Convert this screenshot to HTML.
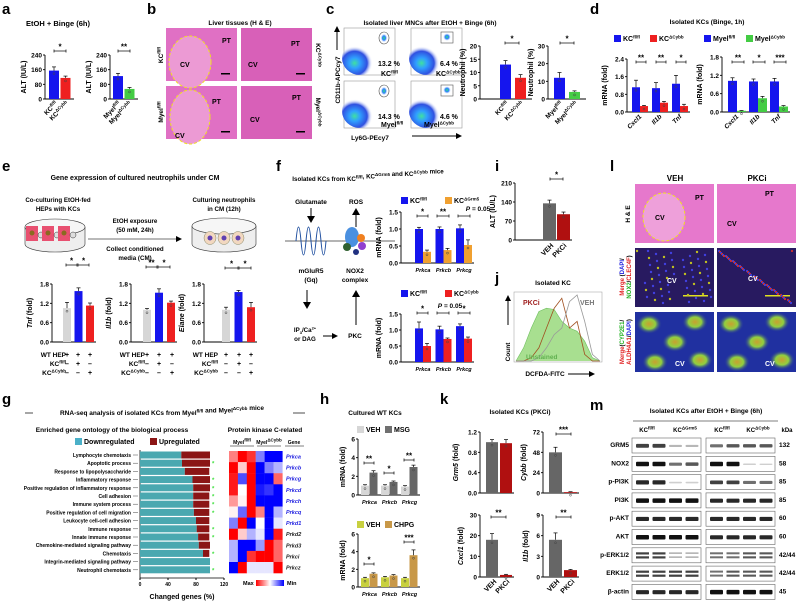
<!DOCTYPE html>
<html><head><meta charset="utf-8">
<style>
html,body{margin:0;padding:0;background:#fff;}
svg{display:block;font-family:"Liberation Sans",Arial,sans-serif;font-weight:bold;}
</style></head>
<body>
<svg id="fig" width="800" height="606" viewBox="0 0 800 606" xmlns="http://www.w3.org/2000/svg">
<defs>
<radialGradient id="flow" cx="0.35" cy="0.65" r="0.5"><stop offset="0" stop-color="#40e0a0"/><stop offset="0.3" stop-color="#30a0ff"/><stop offset="0.7" stop-color="#3050e0"/><stop offset="1" stop-color="#fff" stop-opacity="0"/></radialGradient>
<radialGradient id="gate" cx="0.5" cy="0.5" r="0.5"><stop offset="0" stop-color="#30e080"/><stop offset="0.5" stop-color="#3080ff"/><stop offset="1" stop-color="#fff" stop-opacity="0"/></radialGradient>
<radialGradient id="cyp" cx="0.5" cy="0.5" r="0.5"><stop offset="0" stop-color="#c8a030"/><stop offset="0.5" stop-color="#90d040"/><stop offset="1" stop-color="#2030a0" stop-opacity="0"/></radialGradient>
<linearGradient id="heatscale"><stop offset="0" stop-color="#f00"/><stop offset="0.5" stop-color="#fff"/><stop offset="1" stop-color="#00f"/></linearGradient>
</defs>
</svg>
<script>
// ---------- DATA ----------
const aCats1 = ["KCfl/fl","KCΔCybb"];
const aVals1 = [[155,115]];
const aErr1 = [[20,10]];
const aVals2 = [[125,55]];
const aErr2 = [[15,8]];
const altTicks = [0,80,160,240];
const cVals1 = [[13,8]];
const cErr1 = [[1.5,1.2]];
const cTicks1 = [0,5,10,15,20];
const cVals2 = [[12,4]];
const cErr2 = [[3,0.6]];
const cTicks2 = [0,10,20,30];
const dCats = ["Cxcl1","Il1b","Tnf"];
const dVals1 = [[1.12,0.27],[1.08,0.42],[1.28,0.27]];
const dErr1 = [[0.32,0.03],[0.25,0.06],[0.38,0.08]];
const dTicks1 = [0,0.8,1.6,2.4];
const dVals2 = [[1.02,0.04],[1.0,0.45],[1.0,0.18]];
const dErr2 = [[0.1,0.01],[0.08,0.06],[0.1,0.03]];
const dTicks2 = [0,0.6,1.2,1.8];
const eTicks = [0,0.6,1.2,1.8];
const eTnf = [[1.05],[1.58],[1.13]];
const eTnfErr = [[0.18],[0.1],[0.08]];
const eIl1b = [[1.0],[1.53],[1.22]];
const eIl1bErr = [[0.04],[0.12],[0.05]];
const eElane = [[1.0],[1.55],[1.08]];
const eElaneErr = [[0.08],[0.05],[0.15]];
const fCats = ["Prkca","Prkcb","Prkcg"];
const fVals1 = [[1.0,0.33],[1.0,0.38],[1.02,0.53]];
const fErr1 = [[0.05,0.05],[0.06,0.05],[0.1,0.15]];
const fVals2 = [[1.05,0.5],[1.02,0.72],[1.12,0.73]];
const fErr2 = [[0.2,0.08],[0.1,0.03],[0.07,0.05]];
const fTicks = [0,0.5,1.0,1.5];
const iVals = [[135],[95]];
const iErr = [[12],[8]];
const iTicks = [0,70,140,210];
const hVals1 = [[1.0,2.4],[1.0,1.4],[0.9,3.0]];
const hErr1 = [[0.1,0.2],[0.1,0.1],[0.1,0.2]];
const hVals2 = [[1.0,1.5],[1.1,1.3],[1.0,3.6]];
const hErr2 = [[0.1,0.1],[0.1,0.1],[0.1,0.6]];
const hTicks = [0,2,4,6];
const kGrm5 = [[1.0],[0.98]];
const kCybb = [[48],[1]];
const kCxcl1 = [[18],[1]];
const kIl1b = [[5.4],[1]];
const kErrGrm5 = [[0.05],[0.07]];
const kErrCybb = [[6],[0.5]];
const kErrCxcl1 = [[3],[0.3]];
const kErrIl1b = [[1],[0.1]];
const goTerms = ["Lymphocyte chemotaxis","Apoptotic process","Response to lipopolysaccharide","Inflammatory response","Positive regulation of inflammatory response","Cell adhesion","Immune system process","Positive regulation of cell migration","Leukocyte cell-cell adhesion","Immune response","Innate immune response","Chemokine-mediated signaling pathway","Chemotaxis","Integrin-mediated signaling pathway","Neutrophil chemotaxis"];
const goDown = [59,60,64,75,76,76,76,77,80,81,83,84,90,100,100];
const goUp = [41,40,35,25,24,23,23,22,19,18,16,16,9,0,0];
const goStar = [0,1,0,1,1,1,1,1,0,1,1,0,1,0,1];
const goTicks = [0,40,80,120];
const heatGenes = ["Prkca","Prkcb","Prkcg","Prkcd","Prkch","Prkcq","Prkd1","Prkd2","Prkd3","Prkci","Prkcz"];
const heatVals = [
 [0.5,1,0.8,-0.5,-1,-1],[1,0.2,1,-1,-0.5,-0.3],[0.9,-0.7,1,-1,-1,0.6],[0.9,0,1,-0.9,-0.8,-1],
 [0.4,0.05,1,-1,-1,-1],[0.05,-0.6,1,0.5,-1,-0.3],[-0.5,1,-1,0,-1,-0.1],[1,0.2,-0.3,-0.1,-1,0.9],
 [-0.3,-1,-1,-0.4,1,0.6],[-0.3,-1,0.8,1,1,0.6],[-1,1,-0.1,-0.1,-0.1,1]];
const blotLabels = ["GRM5","NOX2","p-PI3K","PI3K","p-AKT","AKT","p-ERK1/2","ERK1/2","β-actin"];
const blotKda = ["132","58","85","85","60","60","42/44","42/44","45"];
const blotLeft = [[0.8,0.8,0.3,0.3],[1,1,0.6,0.7],[0.9,0.9,0.2,0.2],[1,1,1,1],[0.9,0.9,0.9,0.9],[1,1,1,1],[0.8,0.8,0.3,0.3],[0.8,0.8,0.8,0.8],[0.9,0.9,0.9,0.9]];
const blotRight = [[0.6,0.7,0.7,0.7],[1,1,0.15,0.1],[0.8,0.8,0.6,0.6],[0.9,0.9,0.9,0.9],[0.9,0.9,0.9,0.9],[0.9,0.9,0.9,0.9],[0.6,0.6,0.7,0.7],[0.6,0.7,0.7,0.7],[1,1,1,1]];
const histUnstained = [0,0.2,0.5,0.75,0.8,0.78,0.6,0.5,0.45,0.3,0.05,0];
const histPKCi = [0,0,0.05,0.2,0.5,0.8,0.95,0.5,0.6,0.1,0,0];
const histVEH = [0,0,0,0.05,0.2,0.4,0.5,0.9,1.0,0.6,0.1,0];

// ---------- HELPERS ----------
const NS='http://www.w3.org/2000/svg';
const svg=document.getElementById('fig');
function mk(tag,a,p){const e=document.createElementNS(NS,tag);for(const k in a)e.setAttribute(k,a[k]);(p||svg).appendChild(e);return e;}
function tx(x,y,s,a,p){const e=mk('text',Object.assign({x:x,y:y,'font-size':7},a||{}),p);e.innerHTML=s;return e;}
function sup(b,s){return b+'<tspan font-size="4.5" dy="-2.5">'+s+'</tspan>';}
const BLUE='#1515ee',RED='#ee2020',GREEN='#44cc44',LG='#d6d6d6',DG='#666',OR='#f0a030',DR='#b01010',OL='#c8d040',TAN='#c89848';

function chart(name,o,vals,errs){
  const g=mk('g',{});
  
  
  const Y=v=>o.yb-v/o.max*(o.yb-o.yt);
  const gap=o.gap||0;
  mk('line',{x1:o.ax,x2:o.ax,y1:o.yt,y2:o.yb,stroke:'#000','stroke-width':0.9},g);
  o.ticks.forEach(t=>{
    mk('line',{x1:o.ax-2,x2:o.ax,y1:Y(t),y2:Y(t),stroke:'#000','stroke-width':0.9},g);
    tx(o.ax-3,Y(t)+2.5,o.dec!=null?t.toFixed(o.dec):t,{'text-anchor':'end','font-size':o.fs||6.5},g);
  });
  const ns=vals[0].length;
  const xEnd=o.start+(vals.length-1)*o.gstep+ns*(o.bw+gap)+2;
  mk('line',{x1:o.ax,x2:xEnd,y1:o.yb,y2:o.yb,stroke:'#000','stroke-width':0.9},g);
  vals.forEach((grp,gi)=>grp.forEach((v,si)=>{
    const x=o.start+gi*o.gstep+si*(o.bw+gap);
    const col=o.byGroup?o.colors[gi]:o.colors[si];
    const r=mk('rect',{x:x,y:Y(v),width:o.bw,height:o.yb-Y(v),fill:col},g);
    
    
    const e=errs?errs[gi][si]:0, cx=x+o.bw/2;
    mk('line',{x1:cx,x2:cx,y1:Y(v),y2:Y(v+e),stroke:'#000','stroke-width':0.7},g);
    mk('line',{x1:cx-2,x2:cx+2,y1:Y(v+e),y2:Y(v+e),stroke:'#000','stroke-width':0.7},g);
    mk('circle',{cx:cx,cy:Y(v)+3,r:1,fill:'none',stroke:'#444','stroke-width':0.5},g);
  }));
  if(o.title){tx(0,0,o.title,{'text-anchor':'middle','font-size':o.tfs||7,transform:'translate('+(o.ax-(o.toff||17))+','+((o.yt+o.yb)/2)+') rotate(-90)'},g);}
  if(o.cats){o.cats.forEach((c,gi)=>{
    const cx=o.start+gi*o.gstep+(ns*(o.bw+gap))/2;
    tx(cx,o.yb+9,c,{'text-anchor':'middle','font-size':5.5,'font-style':'italic'},g);
  });}
  return g;
}
function sig(x1,x2,y,s){
  const g=mk('g',{});
  mk('line',{x1:x1,x2:x2,y1:y,y2:y,stroke:'#000','stroke-width':0.7},g);
  mk('line',{x1:x1,x2:x1,y1:y-1.5,y2:y+1.5,stroke:'#000','stroke-width':0.7},g);
  mk('line',{x1:x2,x2:x2,y1:y-1.5,y2:y+1.5,stroke:'#000','stroke-width':0.7},g);
  tx((x1+x2)/2,y-1.5,s,{'text-anchor':'middle','font-size':8},g);
}
function plabel(x,y,s){const t=tx(x,y,s,{'font-size':15,'font-weight':'bold'});}
function legend(x,y,col,s,fs){mk('rect',{x:x,y:y-6,width:7,height:7,fill:col});tx(x+9,y,s,{'font-size':fs||7});}

// ---------- PANEL A ----------
plabel(2,14,'a');
tx(58,26,'EtOH + Binge (6h)',{'text-anchor':'middle','font-size':7.5});
chart('chart-a-kc',{ax:45,yb:99,yt:55,max:240,ticks:altTicks,start:49,gstep:0,bw:10,gap:1.5,colors:[BLUE,RED],title:'ALT (IU/L)',toff:19},aVals1,aErr1);
chart('chart-a-myel',{ax:110,yb:99,yt:55,max:240,ticks:altTicks,start:113,gstep:0,bw:10,gap:1.5,colors:[BLUE,GREEN],title:'ALT (IU/L)',toff:19},aVals2,aErr2);
sig(54,66,51,'*');sig(118,130,51,'**');
[[55,'KC','fl/fl'],[66,'KC','ΔCybb']].forEach(d=>tx(0,0,sup(d[1],d[2]),{'text-anchor':'end','font-size':6.5,transform:'translate('+(d[0]+3)+',104) rotate(-45)'}));
[[118,'Myel','fl/fl'],[129,'Myel','ΔCybb']].forEach(d=>tx(0,0,sup(d[1],d[2]),{'text-anchor':'end','font-size':6.5,transform:'translate('+(d[0]+3)+',104) rotate(-45)'}));

// ---------- PANEL B ----------
plabel(147,14,'b');
tx(240,25,'Liver tissues (H &amp; E)',{'text-anchor':'middle','font-size':6.5});
[[166,28],[241,28],[166,86],[241,86]].forEach((p,i)=>{
  const r=mk('rect',{x:p[0],y:p[1],width:71,height:53,fill:i%2?'#d860b8':'#e070c4'});
  
  mk('rect',{x:p[0]+55,y:p[1]+45,width:9,height:1.5,fill:'#000'});
});
mk('ellipse',{cx:190,cy:62,rx:21,ry:26,fill:'#ec9ad4',stroke:'#f0e020','stroke-width':1,'stroke-dasharray':'3,2'});
mk('ellipse',{cx:190,cy:117,rx:20,ry:27,fill:'#ec9ad4',stroke:'#f0e020','stroke-width':1,'stroke-dasharray':'3,2'});
[[180,67,'CV'],[222,43,'PT'],[248,67,'CV'],[291,46,'PT'],[212,104,'PT'],[175,138,'CV'],[250,122,'CV'],[292,100,'PT']].forEach(d=>tx(d[0],d[1],d[2],{'font-size':7}));
tx(0,0,sup('KC','fl/fl'),{'font-size':6.5,'text-anchor':'middle',transform:'translate(163,55) rotate(-90)'});
tx(0,0,sup('Myel','fl/fl'),{'font-size':6.5,'text-anchor':'middle',transform:'translate(163,112) rotate(-90)'});
tx(0,0,sup('KC','ΔCybb'),{'font-size':6.5,'text-anchor':'middle',transform:'translate(316,55) rotate(90)'});
tx(0,0,sup('Myel','ΔCybb'),{'font-size':6.5,'text-anchor':'middle',transform:'translate(316,112) rotate(90)'});

// ---------- PANEL C ----------
plabel(326,14,'c');
tx(430,25,'Isolated liver MNCs after EtOH + Binge (6h)',{'text-anchor':'middle','font-size':6.5});
[[344,28],[411,28],[344,81],[411,81]].forEach((p,i)=>{
  const r=mk('rect',{x:p[0],y:p[1],width:51,height:47,fill:'#fff',stroke:'#999','stroke-width':0.6});
  
  mk('ellipse',{cx:p[0]+16,cy:p[1]+30,rx:18,ry:17,fill:'url(#flow)'});
  if(i%2){mk('rect',{x:p[0]+30,y:p[1]+4,width:12,height:11,fill:'none',stroke:'#555','stroke-width':0.6});mk('ellipse',{cx:p[0]+36,cy:p[1]+9,rx:4,ry:4,fill:'url(#gate)'});}
  else{mk('ellipse',{cx:p[0]+40,cy:p[1]+10,rx:5,ry:6,fill:'none',stroke:'#555','stroke-width':0.6});mk('ellipse',{cx:p[0]+40,cy:p[1]+10,rx:3.5,ry:4.5,fill:'url(#gate)'});}
});
tx(378,66,'13.2 %',{'font-size':7});tx(381,76,sup('KC','fl/fl'),{'font-size':7});
tx(440,66,'6.4 %',{'font-size':7});tx(436,76,sup('KC','ΔCybb'),{'font-size':7});
tx(378,119,'14.3 %',{'font-size':7});tx(381,127,sup('Myel','fl/fl'),{'font-size':7});
tx(440,119,'4.6 %',{'font-size':7});tx(424,127,sup('Myel','ΔCybb'),{'font-size':7});
tx(0,0,'CD11b-APCcy7',{'font-size':6.5,'text-anchor':'middle',transform:'translate(340,80) rotate(-90)'});
mk('line',{x1:337,x2:337,y1:50,y2:30,stroke:'#000'});mk('path',{d:'M334,32 L337,26 L340,32 Z'});
tx(370,140,'Ly6G-PEcy7',{'text-anchor':'middle','font-size':6.5});
mk('line',{x1:412,x2:458,y1:136,y2:136,stroke:'#000'});mk('path',{d:'M456,133 L462,136 L456,139 Z'});
chart('chart-c-kc',{ax:480,yb:99,yt:46,max:20,ticks:cTicks1,start:500,gstep:0,bw:11,gap:4,colors:[BLUE,RED],title:'Neutrophil (%)',toff:15},cVals1,cErr1);
chart('chart-c-myel',{ax:548,yb:99,yt:46,max:30,ticks:cTicks2,start:554,gstep:0,bw:11,gap:4,colors:[BLUE,GREEN],title:'Neutrophil (%)',toff:15},cVals2,cErr2);
sig(505,519,43,'*');sig(560,574,43,'*');
[[506,'KC','fl/fl'],[521,'KC','ΔCybb'],[560,'Myel','fl/fl'],[575,'Myel','ΔCybb']].forEach(d=>tx(0,0,sup(d[1],d[2]),{'text-anchor':'end','font-size':6.5,transform:'translate('+(d[0]+3)+',104) rotate(-45)'}));

// ---------- PANEL D ----------
plabel(590,14,'d');
tx(707,24,'Isolated KCs (Binge, 1h)',{'text-anchor':'middle','font-size':6.5});
legend(614,41,BLUE,sup('KC','fl/fl'));legend(650,41,RED,sup('KC','ΔCybb'));
legend(704,41,BLUE,sup('Myel','fl/fl'));legend(746,41,GREEN,sup('Myel','ΔCybb'));
chart('chart-d-kc',{ax:627,yb:112,yt:59,max:2.4,ticks:dTicks1,dec:1,start:632,gstep:20,bw:8,colors:[BLUE,RED],title:'mRNA (fold)',toff:20},dVals1,dErr1);
chart('chart-d-myel',{ax:722,yb:112,yt:57,max:1.8,ticks:dTicks2,dec:1,start:728,gstep:21,bw:9,colors:[BLUE,GREEN],title:'mRNA (fold)',toff:20},dVals2,dErr2);
sig(636,646,62,'**');sig(656,666,62,'**');sig(676,686,62,'*');
sig(732,744,62,'**');sig(753,765,62,'*');sig(774,786,62,'***');
dCats.forEach((c,i)=>{tx(0,0,c,{'text-anchor':'end','font-size':6.5,'font-style':'italic',transform:'translate('+(642+i*20)+',117) rotate(-45)'});tx(0,0,c,{'text-anchor':'end','font-size':6.5,'font-style':'italic',transform:'translate('+(739+i*21)+',117) rotate(-45)'});});

// ---------- PANEL E ----------
plabel(2,171,'e');
tx(135,180,'Gene expression of cultured neutrophils under CM',{'text-anchor':'middle','font-size':7});
tx(58,202,'Co-culturing EtOH-fed',{'text-anchor':'middle','font-size':6.2});
tx(58,211,'HEPs with KCs',{'text-anchor':'middle','font-size':6.2});
tx(224,202,'Culturing neutrophils',{'text-anchor':'middle','font-size':6.2});
tx(224,211,'in CM (12h)',{'text-anchor':'middle','font-size':6.2});
tx(135,223,'EtOH exposure',{'text-anchor':'middle','font-size':6.2});
tx(135,232,'(50 mM, 24h)',{'text-anchor':'middle','font-size':6.2});
tx(135,251,'Collect conditioned',{'text-anchor':'middle','font-size':6.2});
tx(135,260,'media (CM)',{'text-anchor':'middle','font-size':6.2});
mk('line',{x1:88,x2:178,y1:239,y2:239,stroke:'#444','stroke-width':0.8});mk('path',{d:'M176,236 L182,239 L176,242 Z'});
mk('path',{d:'M25,227 L25,244 A30,8 0 0 0 85,244 L85,227',fill:'#eee',stroke:'#333','stroke-width':0.6});
mk('ellipse',{cx:55,cy:227,rx:30,ry:8,fill:'#f6f6f6',stroke:'#333','stroke-width':0.6});
[33,49,65].forEach(x=>{mk('rect',{x:x-7,y:226,width:12,height:15,fill:'#e85070'});mk('circle',{cx:x-1,cy:233,r:2.5,fill:'#8a6a20'});mk('circle',{cx:x+8,cy:235,r:3,fill:'#ddd',stroke:'#333','stroke-width':0.5});});
mk('path',{d:'M192,226 L192,244 A32,8 0 0 0 256,244 L256,226',fill:'#eee',stroke:'#333','stroke-width':0.6});
mk('ellipse',{cx:224,cy:226,rx:32,ry:8,fill:'#f6f6f6',stroke:'#333','stroke-width':0.6});
[210,224,238].forEach(x=>{mk('ellipse',{cx:x,cy:238,rx:6,ry:6.5,fill:'#f2d8c0',stroke:'#886','stroke-width':0.5});mk('circle',{cx:x,cy:238,r:2.5,fill:'#6040b0'});});
chart('chart-e-tnf',{ax:52,yb:342,yt:284,max:1.8,ticks:eTicks,dec:1,start:63,gstep:11.5,bw:8,colors:[LG,BLUE,RED],byGroup:true,title:'<tspan font-style="italic">Tnf</tspan> (fold)',toff:20},eTnf,eTnfErr);
chart('chart-e-il1b',{ax:131,yb:342,yt:284,max:1.8,ticks:eTicks,dec:1,start:143,gstep:12,bw:8,colors:[LG,BLUE,RED],byGroup:true,title:'<tspan font-style="italic">Il1b</tspan> (fold)',toff:20},eIl1b,eIl1bErr);
chart('chart-e-elane',{ax:204,yb:342,yt:284,max:1.8,ticks:eTicks,dec:1,start:222,gstep:12.5,bw:8,colors:[LG,BLUE,RED],byGroup:true,title:'<tspan font-style="italic">Elane</tspan> (fold)',toff:20},eElane,eElaneErr);
sig(66,77,265,'*');sig(78,89,265,'*');sig(146,157,267,'**');sig(158,170,267,'*');sig(225,238,268,'*');sig(239,251,268,'*');
[[52,67,78,90],[131,147,159,172],[204,226,239,251]].forEach(c=>{
  tx(c[0]+14,357,'WT HEP',{'text-anchor':'end','font-size':6.5});
  tx(c[0]+14,366,sup('KC','fl/fl'),{'text-anchor':'end','font-size':6.5});
  tx(c[0]+14,375,sup('KC','ΔCybb'),{'text-anchor':'end','font-size':6.5});
  [['+','+','+'],['–','+','–'],['–','–','+']].forEach((r,ri)=>r.forEach((s,i)=>tx(c[i+1],357+ri*9,s,{'text-anchor':'middle','font-size':7})));
});

// ---------- PANEL F ----------
plabel(276,171,'f');
tx(368,181,'Isolated KCs from '+sup('KC','fl/fl')+', '+sup('KC','ΔGrm5')+' and '+sup('KC','ΔCybb')+' mice',{'text-anchor':'middle','font-size':6.2});
tx(311,204,'Glutamate',{'text-anchor':'middle','font-size':6.5});tx(356,204,'ROS',{'text-anchor':'middle','font-size':6.5});
mk('line',{x1:311,x2:311,y1:208,y2:216,stroke:'#000'});mk('path',{d:'M307,216 L311,223 L315,216 Z'});
mk('line',{x1:356,x2:356,y1:227,y2:215,stroke:'#000'});mk('path',{d:'M352,215 L356,208 L360,215 Z'});
mk('line',{x1:285,x2:395,y1:241,y2:241,stroke:'#888','stroke-width':1.2});
mk('path',{d:'M296,241 q2.5,-28 5,0 q2.5,28 5,0 q2.5,-28 5,0 q2.5,28 5,0 q2.5,-28 5,0 q2.5,28 5,0',fill:'none',stroke:'#2050a0','stroke-width':1});
mk('ellipse',{cx:352,cy:237,rx:7,ry:10,fill:'#4a90e0'});mk('circle',{cx:361,cy:238,r:4,fill:'#f08020'});mk('circle',{cx:362,cy:246,r:4,fill:'#9040d0'});mk('circle',{cx:347,cy:247,r:4,fill:'#306030'});mk('circle',{cx:356,cy:252,r:3,fill:'#203080'});
tx(311,273,'mGluR5',{'text-anchor':'middle','font-size':6.5});tx(311,282,'(Gq)',{'text-anchor':'middle','font-size':6.5});
tx(355,273,'NOX2',{'text-anchor':'middle','font-size':6.5});tx(355,282,'complex',{'text-anchor':'middle','font-size':6.5});
mk('line',{x1:307,x2:307,y1:290,y2:302,stroke:'#000'});mk('path',{d:'M303,302 L307,309 L311,302 Z'});
mk('line',{x1:356,x2:356,y1:325,y2:297,stroke:'#000'});mk('path',{d:'M352,297 L356,290 L360,297 Z'});
tx(305,332,'IP<tspan font-size="4" dy="2">3</tspan><tspan dy="-2">/Ca</tspan><tspan font-size="4" dy="-2.5">2+</tspan>',{'text-anchor':'middle','font-size':6.2});
tx(305,341,'or DAG',{'text-anchor':'middle','font-size':6.2});
mk('line',{x1:323,x2:333,y1:336,y2:336,stroke:'#000'});mk('path',{d:'M332,333 L338,336 L332,339 Z'});
tx(355,338,'PKC',{'text-anchor':'middle','font-size':6.5});
legend(401,203,BLUE,sup('KC','fl/fl'));legend(445,203,OR,sup('KC','ΔGrm5'));
tx(478,211,'<tspan font-style="italic">P</tspan> = 0.05',{'text-anchor':'middle','font-size':6.5});
chart('chart-f-grm5',{ax:401,yb:263,yt:212,max:1.5,ticks:fTicks,dec:1,start:415,gstep:20.5,bw:8,colors:[BLUE,OR],title:'mRNA (fold)',toff:20,cats:fCats},fVals1,fErr1);
legend(401,296,BLUE,sup('KC','fl/fl'));legend(445,296,RED,sup('KC','ΔCybb'));
tx(450,308,'<tspan font-style="italic">P</tspan> = 0.05',{'text-anchor':'middle','font-size':6.5});
chart('chart-f-cybb',{ax:401,yb:362,yt:314,max:1.5,ticks:fTicks,dec:1,start:415,gstep:20.5,bw:8,colors:[BLUE,RED],title:'mRNA (fold)',toff:20,cats:fCats},fVals2,fErr2);
sig(417,428,216,'*');sig(437,449,216,'**');sig(458,470,216,'');
sig(417,428,313,'*');sig(437,449,313,'');sig(458,470,313,'*');

// ---------- PANEL I ----------
plabel(495,171,'i');
chart('chart-i',{ax:515,yb:240,yt:183,max:210,ticks:iTicks,start:543,gstep:14,bw:13,colors:[DG,DR],byGroup:true,title:'ALT (IU/L)',toff:20},iVals,iErr);
sig(550,563,179,'*');
tx(0,0,'VEH',{'text-anchor':'end','font-size':7,transform:'translate(554,246) rotate(-45)'});
tx(0,0,'PKCi',{'text-anchor':'end','font-size':7,transform:'translate(567,246) rotate(-45)'});

// ---------- PANEL J ----------
plabel(495,283,'j');
tx(553,285,'Isolated KC',{'text-anchor':'middle','font-size':6.5});
mk('rect',{x:514,y:292,width:88,height:70,fill:'#fff',stroke:'#999','stroke-width':0.5});
function hist(arr,attrs,name){
  const x0=516,w=84,b=361,h=66;
  let d='M'+x0+','+b;
  arr.forEach((v,i)=>{d+=' L'+(x0+i*w/(arr.length-1)).toFixed(1)+','+(b-v*h).toFixed(1);});
  d+=' L'+(x0+w)+','+b;
  const p=mk('path',Object.assign({d:d},attrs));
  
  
}
hist(histUnstained,{fill:'#9edc84','fill-opacity':0.9,stroke:'#70c060','stroke-width':0.6},'hist-unstained');
hist(histPKCi,{fill:'none',stroke:'#a05020','stroke-width':0.8},'hist-pkci');
hist(histVEH,{fill:'none',stroke:'#999','stroke-width':0.8},'hist-veh');
tx(523,305,'PKCi',{'font-size':7,fill:'#a02020'});tx(580,305,'VEH',{'font-size':7,fill:'#777'});
tx(526,359,'Unstained',{'font-size':6.5,fill:'#60b050'});
tx(0,0,'Count',{'text-anchor':'middle','font-size':6.5,transform:'translate(510,352) rotate(-90)'});
mk('line',{x1:508,x2:508,y1:325,y2:300,stroke:'#000'});mk('path',{d:'M505,301 L508,295 L511,301 Z'});
tx(545,376,'DCFDA-FITC',{'text-anchor':'middle','font-size':6.5});
mk('line',{x1:568,x2:590,y1:374,y2:374,stroke:'#000'});mk('path',{d:'M589,371 L595,374 L589,377 Z'});

// ---------- PANEL L ----------
plabel(610,171,'l');
tx(675,181,'VEH',{'text-anchor':'middle','font-size':8});tx(757,181,'PKCi',{'text-anchor':'middle','font-size':8});
[[635,184],[717,184]].forEach(p=>{const r=mk('rect',{x:p[0],y:p[1],width:79,height:59,fill:'#e678cc'});});
mk('ellipse',{cx:664,cy:217,rx:21,ry:24,fill:'#eea0da',stroke:'#f0e020','stroke-width':1,'stroke-dasharray':'3,2'});
tx(655,220,'CV',{'font-size':7});tx(695,200,'PT',{'font-size':7});tx(727,226,'CV',{'font-size':7});tx(765,196,'PT',{'font-size':7});
[[635,248],[717,248]].forEach(p=>{const r=mk('rect',{x:p[0],y:p[1],width:79,height:59,fill:'#281a60'});mk('rect',{x:p[0]+48,y:p[1]+47,width:25,height:1.5,fill:'#e0e020'});});
for(let i=0;i<60;i++){mk('circle',{cx:637+(i*37)%75,cy:251+(i*23)%53,r:1.2,fill:i%3?'#4040e0':'#c0c020'});mk('circle',{cx:719+(i*41)%75,cy:251+(i*29)%53,r:1.1,fill:i%2?'#d03030':'#4040e0'});}
tx(667,283,'CV',{'font-size':7,fill:'#fff'});tx(748,281,'CV',{'font-size':7,fill:'#fff'});
[[635,312],[717,312]].forEach(p=>{const r=mk('rect',{x:p[0],y:p[1],width:79,height:60,fill:'#2030a0'});
  [[14,12],[40,30],[60,10],[20,50],[65,48]].forEach(c=>mk('ellipse',{cx:p[0]+c[0],cy:p[1]+c[1],rx:13,ry:10,fill:'url(#cyp)'}));});
tx(675,366,'CV',{'font-size':7,fill:'#fff'});tx(765,366,'CV',{'font-size':7,fill:'#fff'});
tx(0,0,'H &amp; E',{'text-anchor':'middle','font-size':6.5,transform:'translate(630,214) rotate(-90)'});
tx(0,0,'<tspan fill="#e02020">Merge</tspan> (<tspan fill="#2020e0">DAPI</tspan>/',{'text-anchor':'middle','font-size':6,transform:'translate(624,277) rotate(-90)'});
tx(0,0,'<tspan fill="#20b020">NOX2</tspan>/<tspan fill="#e02020">CLEC4F</tspan>)',{'text-anchor':'middle','font-size':6,transform:'translate(631,277) rotate(-90)'});
tx(0,0,'<tspan fill="#e02020">Merge</tspan>(<tspan fill="#20b020">CYP2E1</tspan>/',{'text-anchor':'middle','font-size':6,transform:'translate(624,342) rotate(-90)'});
tx(0,0,'<tspan fill="#e02020">ALDH4A1</tspan>/<tspan fill="#2020e0">DAPI</tspan>)',{'text-anchor':'middle','font-size':6,transform:'translate(631,342) rotate(-90)'});

// ---------- PANEL G ----------
plabel(2,404,'g');
mk('line',{x1:25,x2:33,y1:413,y2:413,stroke:'#000','stroke-width':0.7});mk('line',{x1:293,x2:305,y1:413,y2:413,stroke:'#000','stroke-width':0.7});
tx(162,415,'RNA-seq analysis of isolated KCs from '+sup('Myel','fl/fl')+' and '+sup('Myel','ΔCybb')+' mice',{'text-anchor':'middle','font-size':6.5});
tx(112,432,'Enriched gene ontology of the biological process',{'text-anchor':'middle','font-size':6.5});
legend(75,444,'#4ab0c8','Downregulated');legend(150,444,'#8b1515','Upregulated');
const goG=mk('g',{});


const GX=v=>140+v*0.7;
mk('line',{x1:140,x2:140,y1:450,y2:578,stroke:'#000','stroke-width':0.8},goG);
mk('line',{x1:140,x2:224,y1:578,y2:578,stroke:'#000','stroke-width':0.8},goG);
goTicks.forEach(t=>{mk('line',{x1:GX(t),x2:GX(t),y1:578,y2:580,stroke:'#000'},goG);tx(GX(t),586,t,{'text-anchor':'middle','font-size':5},goG);});
tx(182,599,'Changed genes (%)',{'text-anchor':'middle','font-size':7},goG);
goTerms.forEach((t,i)=>{
  const y=455+i*8.2;
  const a=mk('rect',{x:140,y:y-3.5,width:GX(goDown[i])-140,height:7,fill:'#4aa8b0'},goG);
  
  const b=mk('rect',{x:GX(goDown[i]),y:y-3.5,width:goUp[i]*0.7,height:7,fill:'#8b1515'},goG);
  
  tx(131,y+2,t,{'text-anchor':'end','font-size':5},goG);
  mk('line',{x1:133,x2:138,y1:y,y2:y,stroke:'#444','stroke-width':0.5},goG);
  if(goStar[i])tx(212,y+2.5,'*',{'font-size':6,fill:'#40e040'},goG);
});
tx(265,432,'Protein kinase C-related',{'text-anchor':'middle','font-size':6.5});
tx(242,444,sup('Myel','fl/fl'),{'text-anchor':'middle','font-size':5});tx(269,444,sup('Myel','ΔCybb'),{'text-anchor':'middle','font-size':5});tx(294,444,'Gene',{'text-anchor':'middle','font-size':5});
mk('line',{x1:230,x2:254,y1:446,y2:446,stroke:'#000','stroke-width':0.5});mk('line',{x1:257,x2:281,y1:446,y2:446,stroke:'#000','stroke-width':0.5});mk('line',{x1:285,x2:304,y1:446,y2:446,stroke:'#000','stroke-width':0.5});
function hcol(v){if(v>=0){const c=Math.round(255*(1-v));return 'rgb(255,'+c+','+c+')';}const c=Math.round(255*(1+v));return 'rgb('+c+','+c+',255)';}
heatVals.forEach((row,ri)=>{
  row.forEach((v,ci)=>{const r=mk('rect',{x:229+ci*8.9,y:451+ri*11.1,width:9.1,height:11.3,fill:hcol(v)});});
  tx(286,451+ri*11.1+7.5,heatGenes[ri],{'font-size':5.5,'font-style':'italic',fill:ri<7?'#2020e0':'#222'});
});
tx(243,585,'Max',{'font-size':5.5});mk('rect',{x:256,y:580,width:28,height:6,fill:'url(#heatscale)'});tx(287,585,'Min',{'font-size':5.5});

// ---------- PANEL H ----------
plabel(320,404,'h');
tx(375,415,'Cultured WT KCs',{'text-anchor':'middle','font-size':6.5});
legend(357,432,LG,'VEH');legend(385,432,'#707070','MSG');
chart('chart-h-msg',{ax:358,yb:495,yt:439,max:6,ticks:hTicks,start:361,gstep:20,bw:8,gap:0.5,colors:[LG,DG],title:'mRNA (fold)',toff:13,cats:fCats},hVals1,hErr1);
sig(364,374,463,'**');sig(384,394,473,'*');sig(404,414,460,'**');
legend(357,527,OL,'VEH');legend(385,527,TAN,'CHPG');
chart('chart-h-chpg',{ax:358,yb:587,yt:534,max:6,ticks:hTicks,start:361,gstep:20,bw:8,gap:0.5,colors:[OL,TAN],title:'mRNA (fold)',toff:13,cats:fCats},hVals2,hErr2);
sig(364,374,564,'*');sig(404,414,542,'***');

// ---------- PANEL K ----------
plabel(440,404,'k');
tx(520,414,'Isolated KCs (PKCi)',{'text-anchor':'middle','font-size':6.5});
chart('chart-k-grm5',{ax:480,yb:493,yt:432,max:1.2,ticks:[0,0.4,0.8,1.2],dec:1,start:486,gstep:14,bw:12,colors:[DG,DR],byGroup:true,title:'<tspan font-style="italic">Grm5</tspan> (fold)',toff:22},kGrm5,kErrGrm5);
chart('chart-k-cybb',{ax:543,yb:493,yt:432,max:72,ticks:[0,24,48,72],start:549,gstep:15,bw:13,colors:[DG,DR],byGroup:true,title:'<tspan font-style="italic">Cybb</tspan> (fold)',toff:17},kCybb,kErrCybb);
sig(556,571,434,'***');
chart('chart-k-cxcl1',{ax:480,yb:577,yt:515,max:30,ticks:[0,10,20,30],start:486,gstep:14,bw:12,colors:[DG,DR],byGroup:true,title:'<tspan font-style="italic">Cxcl1</tspan> (fold)',toff:17},kCxcl1,kErrCxcl1);
sig(491,506,517,'**');
chart('chart-k-il1b',{ax:543,yb:577,yt:515,max:9,ticks:[0,3,6,9],start:549,gstep:15,bw:13,colors:[DG,DR],byGroup:true,title:'<tspan font-style="italic">Il1b</tspan> (fold)',toff:15},kIl1b,kErrIl1b);
sig(556,571,517,'**');
[[494,507],[557,572]].forEach(c=>{tx(0,0,'VEH',{'text-anchor':'end','font-size':7,transform:'translate('+(c[0]+3)+',582) rotate(-45)'});tx(0,0,'PKCi',{'text-anchor':'end','font-size':7,transform:'translate('+(c[1]+3)+',582) rotate(-45)'});});

// ---------- PANEL M ----------
plabel(590,410,'m');
tx(706,413,'Isolated KCs after EtOH + Binge (6h)',{'text-anchor':'middle','font-size':6.5});
mk('line',{x1:633,x2:778,y1:421,y2:421,stroke:'#000','stroke-width':0.6});
tx(647,432,sup('KC','fl/fl'),{'text-anchor':'middle','font-size':6});tx(685,432,sup('KC','ΔGrm5'),{'text-anchor':'middle','font-size':6});
tx(722,432,sup('KC','fl/fl'),{'text-anchor':'middle','font-size':6});tx(758,432,sup('KC','ΔCybb'),{'text-anchor':'middle','font-size':6});
tx(787,432,'kDa',{'text-anchor':'middle','font-size':6});
blotLabels.forEach((l,i)=>{
  const y=437+i*18.3;
  tx(629,y+10,l,{'text-anchor':'end','font-size':6.5});
  tx(779,y+10,blotKda[i],{'font-size':6.5});
  [[632,blotLeft[i]],[706,blotRight[i]]].forEach(b=>{
    const r=mk('rect',{x:b[0],y:y+1,width:69,height:15,fill:'#fff',stroke:'#666','stroke-width':0.6});
    
    b[1].forEach((v,li)=>{
      const bx=b[0]+4+li*16.5;
      if(i===6||i===7){mk('rect',{x:bx,y:y+5.5,width:13,height:1.4+v,fill:'#111','fill-opacity':v});mk('rect',{x:bx,y:y+9.5,width:13,height:1.4+v,fill:'#111','fill-opacity':v});}
      else mk('rect',{x:bx,y:y+8.5-v*2,width:13,height:1+v*3.5,rx:1,fill:'#111','fill-opacity':Math.max(0.2,v)});
    });
  });
});
</script>
</body></html>
